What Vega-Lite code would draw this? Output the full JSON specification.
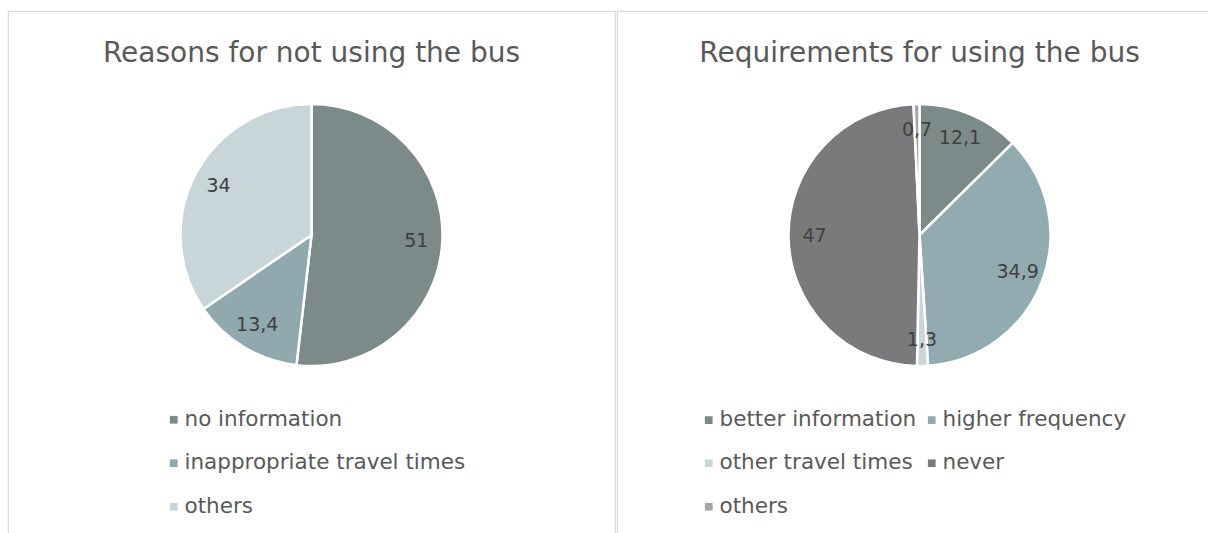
{
  "$schema": "https://vega.github.io/schema/vega-lite/v6.json",
  "padding": {"left": 7, "top": 10, "right": 0, "bottom": 0},
  "autosize": {"type": "pad"},
  "spacing": 0,
  "background": "white",
  "config": {
    "font": "DejaVu Sans",
    "view": {"stroke": "#D9D9D9", "strokeWidth": 1.2},
    "title": {"fontSize": 28, "fontWeight": "normal", "color": "#595959", "offset": -57, "anchor": "middle"},
    "legend": {
      "labelFontSize": 21.5, "labelColor": "#595959", "symbolType": "square", "symbolSize": 60,
      "symbolStrokeWidth": 0, "rowPadding": 20.5, "labelOffset": 0, "padding": 0, "title": null,
      "orient": "none", "columnPadding": 4, "labelLimit": 400
    }
  },
  "hconcat": [
    {
      "width": 607,
      "height": 530,
      "view": {"stroke": "#D9D9D9", "strokeWidth": 1.2},
      "title": "Reasons for not using the bus",
      "data": {"values": [
        {"reason": "no information", "value": 51, "label": "51", "i": 1},
        {"reason": "inappropriate travel times", "value": 13.4, "label": "13,4", "i": 2},
        {"reason": "others", "value": 34, "label": "34", "i": 3}
      ]},
      "encoding": {
        "theta": {"field": "value", "type": "quantitative", "stack": true},
        "order": {"field": "i", "type": "quantitative"}
      },
      "layer": [
        {
          "mark": {"type": "arc", "outerRadius": 131, "y": 224, "stroke": "white", "strokeWidth": 2.5},
          "encoding": {
            "color": {
              "field": "reason", "type": "nominal",
              "scale": {"domain": ["no information", "inappropriate travel times", "others"], "range": ["#7C8B89", "#8FA9AF", "#C8D5D9"]},
              "legend": {"legendX": 155, "legendY": 398, "direction": "vertical"}
            }
          }
        },
        {
          "mark": {"type": "text", "radius": 105, "y": 224, "fontSize": 19, "fill": "#404040"},
          "encoding": {"text": {"field": "label"}}
        }
      ]
    },
    {
      "width": 605,
      "height": 530,
      "view": {"stroke": "#D9D9D9", "strokeWidth": 1.2},
      "title": "Requirements for using the bus",
      "data": {"values": [
        {"req": "better information", "value": 12.1, "label": "12,1", "i": 1},
        {"req": "higher frequency", "value": 34.9, "label": "34,9", "i": 2},
        {"req": "other travel times", "value": 1.3, "label": "1,3", "i": 3},
        {"req": "never", "value": 47, "label": "47", "i": 4},
        {"req": "others", "value": 0.7, "label": "0,7", "i": 5}
      ]},
      "encoding": {
        "theta": {"field": "value", "type": "quantitative", "stack": true},
        "order": {"field": "i", "type": "quantitative"}
      },
      "layer": [
        {
          "mark": {"type": "arc", "outerRadius": 131, "y": 224, "stroke": "white", "strokeWidth": 2.5},
          "encoding": {
            "color": {
              "field": "req", "type": "nominal",
              "scale": {"domain": ["better information", "higher frequency", "other travel times", "never", "others"], "range": ["#7C8B89", "#91ABB1", "#C8D5D9", "#7A7A7C", "#A5A5A5"]},
              "legend": {"legendX": 81, "legendY": 398, "columns": 2, "direction": "horizontal"}
            }
          }
        },
        {
          "mark": {"type": "text", "radius": 105, "y": 224, "fontSize": 19, "fill": "#404040"},
          "encoding": {"text": {"field": "label"}}
        }
      ]
    }
  ],
  "resolve": {"scale": {"color": "independent"}, "legend": {"color": "independent"}}
}
